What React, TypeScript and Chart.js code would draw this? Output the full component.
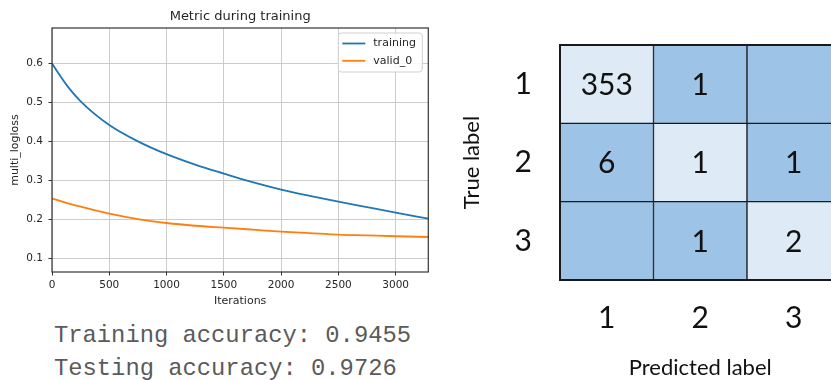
import React, { useEffect, useRef } from 'react';
import { Chart, registerables } from 'chart.js';

Chart.register(...registerables);

// ---------- Loss curve data ----------
const iterations = [0, 125, 250, 500, 750, 1000, 1250, 1500, 1750, 2000, 2250, 2500, 2750, 3000, 3285];
const trainingLoss = [0.600, 0.546, 0.503, 0.442, 0.400, 0.367, 0.340, 0.317, 0.295, 0.276, 0.260, 0.245, 0.231, 0.217, 0.201];
const validLoss = [0.253, 0.242, 0.232, 0.214, 0.200, 0.190, 0.183, 0.178, 0.173, 0.168, 0.164, 0.160, 0.158, 0.156, 0.154];
const xTicks = [0, 500, 1000, 1500, 2000, 2500, 3000];
const yTicks = [0.1, 0.2, 0.3, 0.4, 0.5, 0.6];

// ---------- Accuracy ----------
const trainingAccuracy = 0.9455;
const testingAccuracy = 0.9726;

// ---------- Confusion matrix ----------
const predictedLabels = ['1', '2', '3'];
const trueLabels = ['1', '2', '3'];
const countsRow1: (number | null)[] = [353, 1, null];
const countsRow2: (number | null)[] = [6, 1, 1];
const countsRow3: (number | null)[] = [null, 1, 2];
const confusionRows = [countsRow1, countsRow2, countsRow3];

const LIGHT_CELL = '#deeaf6';
const DARK_CELL = '#9dc3e6';
const TEXT = '#262626';

const framePlugin = {
  id: 'frame',
  afterDraw(chart: any) {
    const { ctx, chartArea } = chart;
    ctx.save();
    ctx.strokeStyle = '#333333';
    ctx.lineWidth = 1.2;
    ctx.strokeRect(chartArea.left, chartArea.top, chartArea.right - chartArea.left, chartArea.bottom - chartArea.top);
    ctx.restore();
  },
};

const legendPlugin = {
  id: 'mplLegend',
  afterDraw(chart: any) {
    const { ctx, chartArea } = chart;
    const w = 84;
    const h = 39;
    const x0 = chartArea.right - 6 - w;
    const y0 = chartArea.top + 5;
    ctx.save();
    ctx.beginPath();
    const r = 3;
    ctx.moveTo(x0 + r, y0);
    ctx.lineTo(x0 + w - r, y0);
    ctx.quadraticCurveTo(x0 + w, y0, x0 + w, y0 + r);
    ctx.lineTo(x0 + w, y0 + h - r);
    ctx.quadraticCurveTo(x0 + w, y0 + h, x0 + w - r, y0 + h);
    ctx.lineTo(x0 + r, y0 + h);
    ctx.quadraticCurveTo(x0, y0 + h, x0, y0 + h - r);
    ctx.lineTo(x0, y0 + r);
    ctx.quadraticCurveTo(x0, y0, x0 + r, y0);
    ctx.closePath();
    ctx.fillStyle = 'rgba(255,255,255,0.85)';
    ctx.fill();
    ctx.strokeStyle = '#d0d0d0';
    ctx.lineWidth = 1;
    ctx.stroke();
    chart.data.datasets.forEach((ds: any, i: number) => {
      const y = y0 + 10.5 + i * 17.3;
      ctx.beginPath();
      ctx.strokeStyle = ds.borderColor;
      ctx.lineWidth = 1.8;
      ctx.moveTo(x0 + 4, y);
      ctx.lineTo(x0 + 27, y);
      ctx.stroke();
      ctx.fillStyle = TEXT;
      ctx.font = '11px "DejaVu Sans"';
      ctx.textBaseline = 'middle';
      ctx.textAlign = 'left';
      ctx.fillText(ds.label, x0 + 35, y);
    });
    ctx.restore();
  },
};

const cellTextPlugin = {
  id: 'cellText',
  afterDatasetsDraw(chart: any) {
    const { ctx, chartArea } = chart;
    ctx.save();
    ctx.font = '30px Lato';
    ctx.fillStyle = '#111111';
    ctx.textAlign = 'center';
    ctx.textBaseline = 'alphabetic';
    confusionRows.forEach((counts, r) => {
      const meta = chart.getDatasetMeta(r);
      meta.data.forEach((el: any, c: number) => {
        const v = counts[c];
        if (v === null || v === undefined) return;
        const { x, y, base } = el.getProps(['x', 'y', 'base'], true);
        ctx.fillText(String(v), x, (y + base) / 2 + 10.8);
      });
    });
    ctx.strokeStyle = '#1a1a1a';
    ctx.lineWidth = 2;
    ctx.strokeRect(chartArea.left, chartArea.top, chartArea.right - chartArea.left, chartArea.bottom - chartArea.top);
    ctx.restore();
  },
};

export default function App() {
  const lossRef = useRef<HTMLCanvasElement>(null);
  const cmRef = useRef<HTMLCanvasElement>(null);

  useEffect(() => {
    const tickFont = { family: 'DejaVu Sans', size: 10.5 };
    const labelFont = { family: 'DejaVu Sans', size: 11, lineHeight: 1.2 };
    const lossChart = new Chart(lossRef.current as HTMLCanvasElement, {
      type: 'line',
      data: {
        datasets: [
          {
            label: 'training',
            data: iterations.map((x, i) => ({ x, y: trainingLoss[i] })),
            borderColor: '#1f77b4',
            backgroundColor: '#1f77b4',
            borderWidth: 1.8,
            pointRadius: 0,
            cubicInterpolationMode: 'monotone',
            fill: false,
          },
          {
            label: 'valid_0',
            data: iterations.map((x, i) => ({ x, y: validLoss[i] })),
            borderColor: '#ff7f0e',
            backgroundColor: '#ff7f0e',
            borderWidth: 1.8,
            pointRadius: 0,
            cubicInterpolationMode: 'monotone',
            fill: false,
          },
        ],
      },
      options: {
        responsive: false,
        animation: false,
        layout: { padding: { left: 0, right: 11.7, top: 0, bottom: 0 } },
        plugins: {
          legend: { display: false },
          tooltip: { enabled: false },
          title: {
            display: true,
            text: 'Metric during training',
            fullSize: false,
            color: TEXT,
            font: { family: 'DejaVu Sans', size: 13, weight: 'normal', lineHeight: 1.2 },
            padding: { top: 9, bottom: 3.4 },
          },
        },
        scales: {
          x: {
            type: 'linear',
            min: 0,
            max: 3285,
            afterBuildTicks: (s: any) => {
              s.ticks = xTicks.map((v) => ({ value: v }));
            },
            afterFit: (s: any) => {
              s.height = 38;
            },
            grid: { color: '#cccccc', lineWidth: 1, drawTicks: true, tickLength: 3.5, tickColor: '#333333', tickWidth: 1 },
            border: { display: false },
            ticks: { font: tickFont, color: TEXT, padding: 3, maxRotation: 0, autoSkip: false, callback: (v: any) => String(v) },
            title: { display: true, text: 'Iterations', font: labelFont, color: TEXT, padding: { top: 0, bottom: 2.4 } },
          },
          y: {
            type: 'linear',
            min: 0.064,
            max: 0.6916,
            afterBuildTicks: (s: any) => {
              s.ticks = yTicks.map((v) => ({ value: v }));
            },
            afterFit: (s: any) => {
              s.width = 52;
            },
            grid: { color: '#cccccc', lineWidth: 1, drawTicks: true, tickLength: 3.5, tickColor: '#333333', tickWidth: 1 },
            border: { display: false },
            ticks: { font: tickFont, color: TEXT, padding: 5.5, autoSkip: false, callback: (v: any) => Number(v).toFixed(1) },
            title: { display: true, text: 'multi_logloss', font: labelFont, color: TEXT, padding: { top: 9, bottom: 0 } },
          },
        },
      } as any,
      plugins: [framePlugin, legendPlugin],
    });

    const cmChart = new Chart(cmRef.current as HTMLCanvasElement, {
      type: 'bar',
      data: {
        labels: predictedLabels,
        datasets: confusionRows.map((counts, r) => ({
          label: 'True ' + trueLabels[r],
          data: predictedLabels.map(() => [trueLabels.length - 1 - r, trueLabels.length - r]),
          backgroundColor: predictedLabels.map((_, c) => (c === r ? LIGHT_CELL : DARK_CELL)),
          borderColor: '#1a1a1a',
          borderWidth: 1,
          borderSkipped: false,
          barPercentage: 1,
          categoryPercentage: 1,
        })),
      },
      options: {
        responsive: false,
        animation: false,
        layout: { padding: { top: 45, right: 9.5, left: 0, bottom: 0 } },
        plugins: { legend: { display: false }, tooltip: { enabled: false } },
        scales: {
          x: {
            type: 'category',
            stacked: true,
            afterFit: (s: any) => {
              s.height = 100;
            },
            grid: { display: false, drawTicks: false },
            border: { display: false },
            ticks: { font: { family: 'Lato', size: 30, lineHeight: 1 }, color: '#111111', padding: 23 },
            title: {
              display: true,
              text: 'Predicted label',
              font: { family: 'Lato', size: 22, lineHeight: 1 },
              color: '#111111',
              padding: { top: 0, bottom: 1 },
            },
          },
          y: {
            type: 'linear',
            min: 0,
            max: trueLabels.length,
            afterBuildTicks: (s: any) => {
              s.ticks = trueLabels.map((_, r) => ({ value: trueLabels.length - 0.5 - r }));
            },
            afterFit: (s: any) => {
              s.width = 110;
            },
            grid: { display: false, drawTicks: false },
            border: { display: false },
            ticks: {
              font: { family: 'Lato', size: 30, lineHeight: 1 },
              color: '#111111',
              padding: 28,
              callback: (v: any) => trueLabels[Math.round(trueLabels.length - 0.5 - Number(v))],
            },
            title: {
              display: true,
              text: 'True label',
              font: { family: 'Lato', size: 22, lineHeight: 1 },
              color: '#111111',
              padding: { top: 11, bottom: 0 },
            },
          },
        },
      } as any,
      plugins: [cellTextPlugin],
    });

    return () => {
      lossChart.destroy();
      cmChart.destroy();
    };
  }, []);

  return (
    <div
      style={{
        position: 'fixed',
        left: 0,
        top: 0,
        width: 831,
        height: 380,
        overflow: 'hidden',
        background: '#ffffff',
      }}
    >
      <canvas
        ref={lossRef}
        width={440}
        height={310}
        style={{ position: 'absolute', left: 0, top: 0, width: 440, height: 310 }}
      />
      <div
        style={{
          position: 'absolute',
          left: 54,
          top: 319,
          fontFamily: '"Liberation Mono", monospace',
          fontSize: 23.8,
          lineHeight: '33px',
          color: '#5a5a5a',
          whiteSpace: 'pre',
        }}
      >
        <div>{'Training accuracy: ' + trainingAccuracy.toFixed(4)}</div>
        <div>{'Testing accuracy: ' + testingAccuracy.toFixed(4)}</div>
      </div>
      <canvas
        ref={cmRef}
        width={400}
        height={380}
        style={{ position: 'absolute', left: 450, top: 0, width: 400, height: 380 }}
      />
    </div>
  );
}
